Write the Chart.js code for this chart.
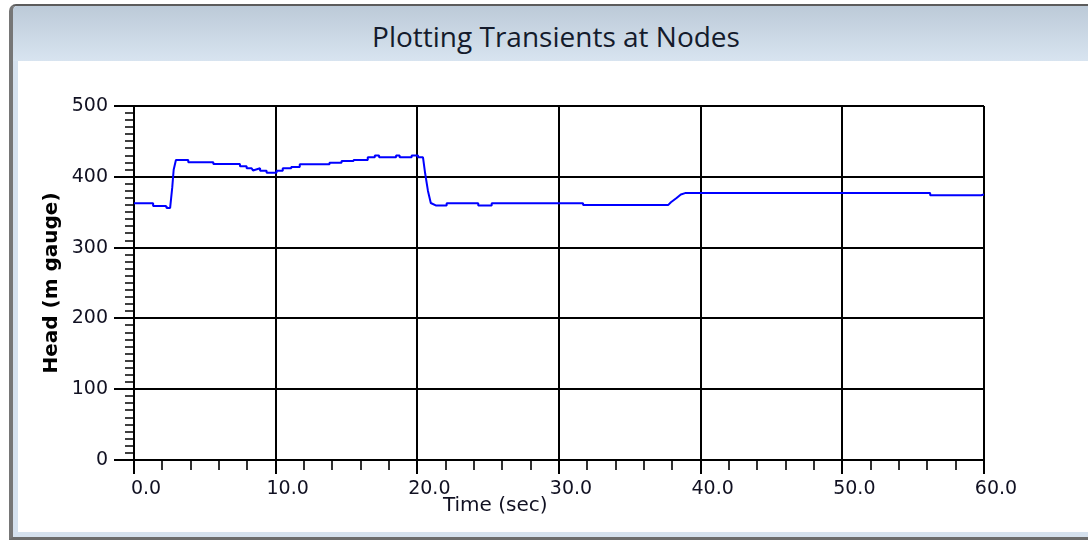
<!DOCTYPE html>
<html>
<head>
<meta charset="utf-8">
<title>Plotting Transients at Nodes</title>
<script src="https://cdn.jsdelivr.net/npm/chart.js@4.4.1/dist/chart.umd.min.js"></script>
<style>
  html, body { margin: 0; padding: 0; background: #fff; }
  body { width: 1088px; height: 546px; overflow: hidden; position: relative; }
  #frame {
    position: absolute; left: 9px; top: 4px; width: 1100px; height: 531px;
    border-left: 4px solid #767676; border-top: 2px solid #5c5c5c; border-bottom: 3px solid #6c6c6c;
    border-top-left-radius: 7px; background: #d5e1ee;
  }
  #caption {
    position: absolute; left: 0; top: 0; right: 0; height: 55px;
    background: linear-gradient(#bccad8, #d8e4f0);
    border-top-left-radius: 5px;
  }
  #caption span {
    position: absolute; left: -13px; width: 1112px; top: 0; text-align: center;
    font-family: 'Open Sans', sans-serif; font-size: 28px; line-height: 60px; color: #141b2c;
  }
  #client { position: absolute; left: 5px; top: 55px; right: 0; bottom: 5px; background: #fff; }
  #chart { position: absolute; left: 0; top: 0; }
</style>
</head>
<body>
<div id="frame">
  <div id="caption"><span>Plotting Transients at Nodes</span></div>
  <div id="client"></div>
</div>
<canvas id="chart" width="1088" height="546"></canvas>
<script>
// time (sec) and head (m gauge)
const times = [0, 1.35, 1.35, 2.26, 2.3, 2.55, 2.7, 2.8, 2.96, 3.83, 3.83, 5.6, 5.6, 7.48, 7.48, 7.95, 7.95, 8.3, 8.4, 8.9, 8.9,
  9.36, 9.36, 10.06, 10.06, 10.5, 10.5, 11.1, 11.1, 11.7, 11.7, 13.8, 13.8, 14.65, 14.65, 15.5, 15.5, 16.5, 16.5,
  17.0, 17.0, 17.3, 17.3, 18.5, 18.5, 18.75, 18.75, 19.6, 19.6, 20.05, 20.05, 20.4, 20.55, 20.75, 20.95, 21.3,
  22.07, 22.07, 24.3, 24.3, 25.25, 25.25, 31.7, 31.7, 37.7, 37.9, 38.3, 38.6, 38.9, 56.2, 56.2, 59.8, 60];
const heads = [362.6, 362.6, 358.8, 358.8, 356, 356, 385, 410, 423.7, 423.7, 420.5, 420.5, 418, 418, 415, 415, 412, 412, 409, 412, 408.6,
  408.6, 405.8, 405.8, 408.6, 408.6, 412, 412, 414, 414, 417.6, 417.6, 420, 420, 422.3, 422.3, 423.7, 423.7, 427.5,
  427.5, 430, 430, 427.5, 427.5, 430, 430, 427.5, 427.5, 430, 430, 427.5, 427.5, 405, 380, 363, 359.5,
  359.5, 362.5, 362.5, 359.5, 359.5, 362.5, 362.5, 360, 360, 364, 370, 375, 377, 377, 374, 374, 375];

const xTickValues = [0, 10, 20, 30, 40, 50, 60];
const xTickLabels = ['0.0', '10.0', '20.0', '30.0', '40.0', '50.0', '60.0'];
const yTickValues = [0, 100, 200, 300, 400, 500];
const yTickLabels = ['0', '100', '200', '300', '400', '500'];
const xMinorStep = 2;
const yMinorStep = 10;

const tickFont = { family: 'DejaVu Sans', size: 19 };
const textColor = '#111122';

// short minor ticks on both axes plus the x axis title
const extras = {
  id: 'extras',
  afterDraw(chart) {
    const { ctx } = chart;
    const x = chart.scales.x, y = chart.scales.y;
    ctx.save();
    ctx.strokeStyle = '#000';
    ctx.lineWidth = 1.6;
    ctx.beginPath();
    for (let v = x.min; v <= x.max; v += xMinorStep) {
      if (v % 10 === 0) continue;
      const px = Math.round(x.getPixelForValue(v));
      ctx.moveTo(px, y.bottom);
      ctx.lineTo(px, y.bottom + 10);
    }
    for (let v = y.min; v <= y.max; v += yMinorStep) {
      if (v % 100 === 0) continue;
      const py = Math.round(y.getPixelForValue(v));
      ctx.moveTo(x.left, py);
      ctx.lineTo(x.left - 9, py);
    }
    ctx.stroke();

    ctx.fillStyle = textColor;
    ctx.font = '20px "DejaVu Sans"';
    ctx.textAlign = 'center';
    ctx.textBaseline = 'middle';
    const ca = chart.chartArea;
    ctx.fillText('Time (sec)', ca.left + (ca.right - ca.left) * 0.425, 506);
    ctx.restore();
  }
};

new Chart(document.getElementById('chart'), {
  type: 'line',
  data: {
    datasets: [{
      data: times.map((t, i) => ({ x: t, y: heads[i] })),
      borderColor: '#0000ff',
      borderWidth: 2,
      borderJoinStyle: 'bevel',
      pointRadius: 0,
      tension: 0,
      fill: false
    }]
  },
  options: {
    responsive: false,
    animation: false,
    layout: { padding: { left: 0, top: 106, right: 104, bottom: 0 } },
    plugins: { legend: { display: false }, tooltip: { enabled: false }, title: { display: false } },
    scales: {
      x: {
        type: 'linear',
        min: 0,
        max: 60,
        afterBuildTicks: s => { s.ticks = xTickValues.map(v => ({ value: v })); },
        afterFit: s => { s.height = 86; },
        ticks: {
          callback: (v, i) => xTickLabels[i],
          font: tickFont,
          color: textColor,
          padding: 4,
          labelOffset: 12,
          maxRotation: 0,
          autoSkip: false
        },
        grid: { color: '#000', lineWidth: 2, tickLength: 14, tickColor: '#000', tickWidth: 2 },
        border: { display: true, color: '#000', width: 2 }
      },
      y: {
        min: 0,
        max: 500,
        afterBuildTicks: s => { s.ticks = yTickValues.map(v => ({ value: v })); },
        afterFit: s => { s.width = 134; },
        ticks: {
          callback: (v, i) => yTickLabels[i],
          font: tickFont,
          color: textColor,
          padding: 6
        },
        grid: { color: '#000', lineWidth: 2, tickLength: 20, tickColor: '#000', tickWidth: 2 },
        border: { display: true, color: '#000', width: 2 },
        title: {
          display: true,
          text: 'Head (m gauge)',
          font: { family: 'DejaVu Sans', size: 20, weight: 'bold' },
          color: '#000',
          padding: { top: 40, bottom: 0 }
        }
      }
    }
  },
  plugins: [extras]
});
</script>
</body>
</html>
